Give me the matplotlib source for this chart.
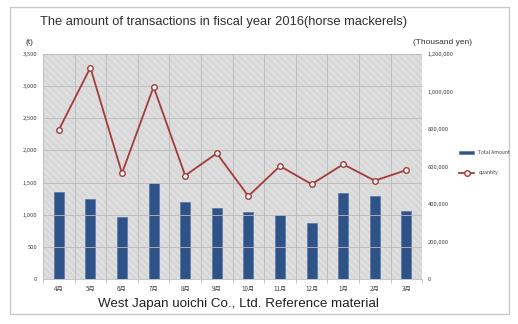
import matplotlib.pyplot as plt
from matplotlib.patches import Rectangle
from matplotlib.ticker import FuncFormatter

plt.rcParams['font.family'] = ['Noto Sans CJK JP', 'DejaVu Sans']
plt.rcParams['hatch.linewidth'] = 0.5

# months (fiscal year, April to March)
months = ['4月', '5月', '6月', '7月', '8月', '9月', '10月', '11月', '12月', '1月', '2月', '3月']

# total amount, thousand yen (bars, right axis)
total_amount = [463000, 427700, 330500, 514300, 408300, 378200,
                357000, 339400, 298600, 461300, 441900, 364100]

# quantity, t (line, left axis)
quantity = [2320, 3290, 1645, 2990, 1610, 1955,
            1290, 1758, 1475, 1785, 1530, 1695]

fig = plt.figure(figsize=(5.18, 3.24), dpi=100)

# outer frame
fig.patches.append(Rectangle((10 / 518, 10 / 324), 499 / 518, 307 / 324,
                             transform=fig.transFigure, fill=False,
                             edgecolor='#c8c8c8', lw=1))

ax_bar = fig.add_axes([0.083, 0.139, 0.732, 0.694])
ax_line = ax_bar.twinx()

x = list(range(len(months)))

# background with diagonal hatch
ax_bar.set_facecolor('#dadada')
ax_bar.add_patch(Rectangle((0, 0), 1, 1, transform=ax_bar.transAxes,
                           facecolor='#d8d8d8', edgecolor='#ececec',
                           hatch='\\\\\\\\\\', lw=0, zorder=0))

bars = ax_bar.bar(x, total_amount, width=0.32, color='#2f5289',
                  edgecolor='#5878a8', linewidth=0.5, zorder=3, label='Total Amount')
line, = ax_line.plot(x, quantity, color='#a33b3b', lw=1.3, marker='o',
                     markersize=4, markerfacecolor='white', markeredgecolor='#a33b3b',
                     markeredgewidth=1, zorder=4, label='quantity')

ax_bar.set_xlim(-0.5, 11.5)
ax_bar.set_ylim(0, 1200000)
ax_line.set_ylim(0, 3500)
ax_bar.set_yticks(range(0, 1200001, 200000))
ax_line.set_yticks(range(0, 3501, 500))

comma = FuncFormatter(lambda v, p: f'{int(v):,}')
ax_bar.yaxis.set_major_formatter(comma)
ax_line.yaxis.set_major_formatter(comma)

# bars' axis on the right, line's axis on the left
ax_bar.yaxis.tick_right()
ax_line.yaxis.tick_left()

ax_bar.set_xticks(x)
ax_bar.set_xticklabels(months)
ax_bar.set_xticks([i - 0.5 for i in range(13)], minor=True)
ax_bar.tick_params(axis='x', which='major', length=0, labelsize=4.5, colors='#404040', pad=4)
ax_bar.tick_params(axis='x', which='minor', length=3, color='#b8b8b8', width=0.6)
ax_bar.tick_params(axis='y', length=0, labelsize=4.2, colors='#404040', pad=4)
ax_line.tick_params(axis='y', length=0, labelsize=4.2, colors='#404040', pad=4)

# grid: vertical at category borders, horizontal at left ticks
ax_bar.grid(axis='x', which='minor', color='#bababa', lw=0.6, zorder=1)
ax_bar.set_axisbelow(True)
for v in range(0, 3501, 500):
    ax_line.axhline(v, color='#bababa', lw=0.6, zorder=1)

for a in (ax_bar, ax_line):
    for s in a.spines.values():
        s.set_visible(False)
ax_bar.spines['bottom'].set_visible(True)
ax_bar.spines['bottom'].set_color('#bababa')
ax_bar.spines['bottom'].set_linewidth(0.6)

narrow = ['Liberation Sans', 'DejaVu Sans']
fig.text(0.432, 0.932, 'The amount of transactions in fiscal year 2016(horse mackerels)',
         ha='center', va='center', fontsize=9.3, color='#303030', family=narrow)
fig.text(0.46, 0.062, 'West Japan uoichi Co., Ltd. Reference material',
         ha='center', va='center', fontsize=9.6, color='#202020', family=narrow)
fig.text(0.056, 0.870, '(t)', ha='center', va='center', fontsize=6, color='#303030',
         family=narrow)
fig.text(0.855, 0.870, '(Thousand yen)', ha='center', va='center', fontsize=6,
         color='#303030', family=narrow)

fig.legend([bars, line], ['Total Amount', 'quantity'], loc='center left',
           bbox_to_anchor=(0.878, 0.497), frameon=False, fontsize=3.6,
           labelspacing=3.0, handlelength=3, handletextpad=0.8,
           labelcolor='#404040')

fig.savefig('out.png', dpi=100)
